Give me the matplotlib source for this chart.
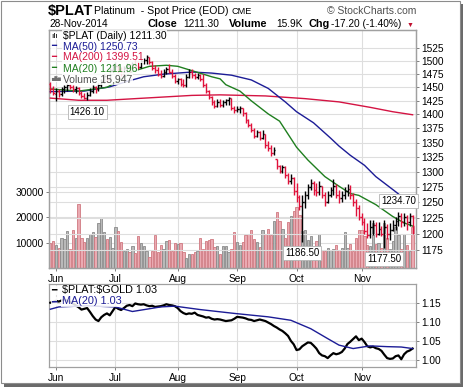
import matplotlib
matplotlib.use("Agg")
import matplotlib.pyplot as plt
import numpy as np
from matplotlib.patches import Rectangle

plt.rcParams['font.family'] = ['Liberation Sans', 'DejaVu Sans']

# trading day 0 = 29-May-2014 ... 128 = 28-Nov-2014
months = ['Jun', 'Jul', 'Aug', 'Sep', 'Oct', 'Nov']
month_start = [2, 23, 45, 66, 87, 110]

opens = [1456, 1448, 1438, 1444, 1438, 1446, 1450, 1454, 1450, 1446, 1448, 1440, 1434, 1430, 1436, 1444, 1450, 1446, 1454, 1462, 1472, 1466, 1482,
         1488, 1490, 1484, 1478, 1486, 1492, 1486, 1494, 1490, 1488, 1500, 1502, 1508, 1498, 1486, 1482, 1476, 1472, 1480, 1484, 1480, 1472,
         1462, 1466, 1456, 1454, 1470, 1480, 1474, 1470, 1474, 1466, 1455, 1444, 1432, 1422, 1415, 1422, 1418, 1422, 1426, 1430, 1412,
         1408, 1410, 1412, 1402, 1390, 1381, 1372, 1362, 1368, 1358, 1366, 1345, 1340, 1332, 1322, 1310, 1302, 1308, 1294, 1284, 1290,
         1268, 1258, 1244, 1250, 1262, 1275, 1282, 1270, 1266, 1276, 1262, 1250, 1262, 1270, 1276, 1262, 1256, 1262, 1268, 1272, 1262, 1250, 1240,
         1226, 1218, 1204, 1198, 1210, 1214, 1200, 1208, 1200, 1210, 1200, 1206, 1214, 1220, 1228, 1218, 1226, 1218, 1228.5]
highs = [1460, 1452, 1448, 1446, 1450, 1454, 1458, 1456, 1454, 1452, 1450, 1444, 1440, 1442, 1448, 1454, 1452, 1458, 1466, 1476, 1474, 1486, 1494,
         1498, 1494, 1488, 1490, 1496, 1494, 1498, 1504, 1500, 1504, 1506, 1512, 1508, 1500, 1492, 1488, 1482, 1485, 1488, 1494, 1484, 1476,
         1468, 1468, 1466, 1475, 1484, 1484, 1478, 1478, 1476, 1475, 1458, 1445, 1434, 1426, 1428, 1428, 1426, 1428, 1432, 1430, 1416,
         1416, 1415, 1412, 1405, 1392, 1384, 1376, 1372, 1370, 1372, 1366, 1352, 1345, 1342, 1322, 1312, 1312, 1310, 1298, 1296, 1292,
         1282, 1262, 1262, 1268, 1280, 1288, 1285, 1282, 1285, 1276, 1266, 1268, 1275, 1288, 1280, 1270, 1268, 1275, 1280, 1278, 1265, 1255, 1245,
         1232, 1224, 1216, 1222, 1222, 1218, 1218, 1212, 1222, 1215, 1216, 1222, 1226, 1234.7, 1232, 1232, 1230, 1232, 1230]
lows = [1440, 1436, 1424, 1432, 1434, 1440, 1444, 1446, 1442, 1440, 1436, 1430, 1428, 1426.1, 1434, 1440, 1440, 1444, 1450, 1458, 1460, 1464, 1478,
        1482, 1478, 1472, 1474, 1480, 1480, 1482, 1486, 1484, 1486, 1494, 1495, 1494, 1482, 1478, 1472, 1468, 1470, 1476, 1478, 1468, 1458,
        1456, 1452, 1450, 1450, 1468, 1468, 1466, 1466, 1462, 1450, 1440, 1428, 1418, 1412, 1414, 1414, 1414, 1417, 1418, 1408, 1402,
        1404, 1402, 1398, 1385, 1378, 1368, 1358, 1360, 1354, 1356, 1340, 1336, 1327, 1328, 1304, 1298, 1298, 1290, 1280, 1280, 1262,
        1250, 1238, 1186.5, 1240, 1255, 1270, 1262, 1260, 1262, 1256, 1244, 1248, 1258, 1262, 1256, 1248, 1250, 1255, 1260, 1255, 1244, 1228, 1222,
        1214, 1200, 1194, 1194, 1198, 1195, 1198, 1196, 1177.5, 1192, 1190, 1204, 1206, 1212, 1210, 1212, 1206, 1212, 1200]
closes = [1446, 1440, 1444, 1438, 1446, 1450, 1454, 1450, 1446, 1448, 1440, 1434, 1430, 1436, 1444, 1450, 1446, 1454, 1462, 1472, 1466, 1482, 1488,
          1490, 1484, 1478, 1486, 1492, 1486, 1494, 1490, 1488, 1500, 1502, 1508, 1498, 1486, 1482, 1476, 1472, 1480, 1484, 1480, 1472, 1462,
          1466, 1456, 1454, 1470, 1480, 1474, 1470, 1474, 1466, 1455, 1444, 1432, 1422, 1415, 1422, 1418, 1422, 1426, 1430, 1412, 1408,
          1410, 1412, 1402, 1390, 1381, 1372, 1362, 1368, 1358, 1366, 1345, 1340, 1332, 1338, 1310, 1302, 1308, 1294, 1284, 1290, 1268,
          1258, 1244, 1250, 1262, 1275, 1282, 1270, 1266, 1276, 1262, 1250, 1262, 1270, 1276, 1262, 1256, 1262, 1268, 1272, 1262, 1250, 1240, 1226,
          1218, 1204, 1198, 1210, 1214, 1200, 1208, 1200, 1210, 1200, 1206, 1214, 1220, 1228, 1218, 1226, 1218, 1228.5, 1211.3]
volume = [9800, 10500, 9200, 8000, 11900, 11400, 14700, 7300, 15100, 11700, 25100, 12000, 10200, 12000, 13200, 14200, 12400, 17800, 19800, 14000, 11300, 12400, 7800,
          16000, 14500, 10400, 6700, 7600, 6300, 8500, 5800, 12500, 10000, 8500, 6700, 4400, 6700, 12800, 6200, 9000, 7300, 10500, 10900, 6700, 9700,
          9400, 9700, 6200, 4100, 5500, 5500, 6200, 6700, 12000, 7600, 10500, 10900, 11300, 8200, 8500, 5500, 8500, 8500, 6200, 7600, 14200,
          10200, 9000, 10200, 12900, 13500, 14800, 11500, 10200, 8300, 14800, 13500, 15400, 13000, 18700, 22000, 18500, 15400, 12000, 18000, 20500, 22600,
          24000, 21000, 14500, 15000, 11000, 12500, 7600, 10500, 13500, 7000, 6500, 8000, 7000, 7500, 9000, 7000, 8000, 14000, 8000, 9500, 6500, 12000, 14800,
          14800, 12500, 9000, 8500, 17600, 9500, 10000, 8000, 17600, 12000, 7600, 10500, 16000, 13000, 7600, 13500, 9000, 6500, 15947]

ma50_day = [0, 12, 21, 27, 33, 40, 50, 57, 64, 71, 77, 83, 87, 93, 99, 102, 106, 111, 115, 122, 125, 128]
ma50 = [1442, 1443, 1451, 1461, 1470, 1475, 1479, 1477, 1473, 1464, 1448, 1423, 1405, 1385, 1358, 1344, 1328, 1311, 1292, 1267, 1256, 1250.73]
ma200_day = [0, 10, 20, 30, 40, 50, 60, 76, 90, 102, 113, 121, 128]
ma200 = [1430, 1426, 1426, 1429, 1432, 1435, 1436, 1434, 1429, 1423, 1413, 1405, 1399.51]
ma20_day = [0, 10, 20, 25, 29, 35, 41, 45, 51, 57, 60, 62, 67, 71, 77, 81, 87, 91, 97, 102, 106, 109, 115, 121, 125, 128]
ma20 = [1447, 1443, 1450, 1465, 1480, 1490, 1492, 1490, 1480, 1470, 1466, 1455, 1443, 1425, 1401, 1388, 1342, 1320, 1292, 1276, 1264, 1261, 1246, 1227, 1217, 1211.96]

ratio = [1.150, 1.152, 1.155, 1.153, 1.156, 1.158, 1.155, 1.152, 1.148, 1.143,
         1.138, 1.132, 1.134, 1.136, 1.126, 1.115, 1.106, 1.102, 1.112, 1.118, 1.122, 1.117, 1.128,
         1.139, 1.134, 1.131, 1.136, 1.142, 1.144, 1.141, 1.148, 1.146, 1.145, 1.146, 1.143, 1.141, 1.142, 1.139, 1.140, 1.141, 1.143, 1.146, 1.144, 1.143, 1.141,
         1.136, 1.128, 1.123, 1.120, 1.122, 1.121, 1.124, 1.118, 1.116, 1.114, 1.111, 1.112, 1.108, 1.106, 1.107, 1.106, 1.104, 1.102, 1.103, 1.104, 1.108,
         1.113, 1.112, 1.111, 1.109, 1.106, 1.105, 1.102, 1.104, 1.106, 1.104, 1.102, 1.098, 1.094, 1.089, 1.085, 1.080, 1.076, 1.070, 1.063, 1.050, 1.041,
         1.026, 1.028, 1.036, 1.041, 1.046, 1.045, 1.038, 1.030, 1.018, 1.012, 1.010, 1.005, 1.012, 1.018, 1.015, 1.017, 1.021, 1.030, 1.042, 1.048, 1.055, 1.062, 1.052,
         1.056, 1.047, 1.036, 1.033, 1.035, 1.031, 1.029, 1.024, 1.014, 1.005, 1.003, 1.004, 1.010, 1.012, 1.002, 1.015, 1.022, 1.025, 1.030]
ratio_ma_day = [0, 3, 13, 23, 29, 39, 44, 53, 65, 77, 85, 92, 98, 102, 107, 113, 119, 124, 128]
ratio_ma = [1.133, 1.139, 1.142, 1.139, 1.127, 1.139, 1.141, 1.132, 1.122, 1.113, 1.104, 1.082, 1.056, 1.039, 1.030, 1.037, 1.035, 1.034, 1.030]

price_ticks = list(range(1175, 1526, 25))
vol_ticks = [10000, 20000, 30000]
ratio_ticks = [1.00, 1.05, 1.10, 1.15]

RED = '#e0103a'
NAVY = '#1c1c96'
CRIMSON = '#d41443'
GREEN = '#1f7f1f'
GRID = '#dedede'
EDGE = '#a0a0a0'

W, H = 464.0, 387.0
fig = plt.figure(figsize=(W / 100, H / 100), dpi=100)

def fp(x, y):
    return x / W, 1 - y / H

# chart frame with a drop shadow
fig.patches.append(Rectangle(fp(4, 387), 460 / W, 383 / H, transform=fig.transFigure,
                             fc='#6a6a6a', ec='none', zorder=-3))
fig.patches.append(Rectangle(fp(0.5, 383), 460 / W, 382.5 / H, transform=fig.transFigure,
                             fc='white', ec='#8c8c8c', lw=0.8, zorder=-2))

ax_v = fig.add_axes([49 / W, 1 - 268 / H, 367 / W, 238 / H])
ax_p = ax_v.twinx()
ax_r = fig.add_axes([49 / W, 1 - 367 / H, 367 / W, 83 / H])

days = np.arange(len(closes))
op = np.array(opens)
cl = np.array(closes)
prev = np.r_[op[0], cl[:-1]]
up = cl >= prev
bar_col = np.where(up, 'black', RED)

# volume (left scale)
ax_v.bar(days, volume, width=0.82, color=np.where(up, '#b9b9b9', '#eaaab2'),
         edgecolor=np.where(up, '#8a8a8a', '#d07880'), linewidth=0.6, zorder=2)
ax_v.set_ylim(0, 93700)
ax_v.set_yticks(vol_ticks)
ax_v.set_yticklabels([str(v) for v in vol_ticks])
ax_v.set_axisbelow(True)
ax_v.grid(True, color=GRID, lw=0.8)

# price (right, log scale)
ax_p.set_yscale('log')
ax_p.vlines(days, lows, highs, colors=bar_col, lw=1.0, zorder=4)
ax_p.hlines(opens, days - 0.5, days, colors=bar_col, lw=1.0, zorder=4)
ax_p.hlines(closes, days, days + 0.5, colors=bar_col, lw=1.0, zorder=4)
ax_p.plot(ma200_day, ma200, color=CRIMSON, lw=1.0, zorder=3)
ax_p.plot(ma50_day, ma50, color=NAVY, lw=1.0, zorder=3)
ax_p.plot(ma20_day, ma20, color=GREEN, lw=1.0, zorder=3)
ax_p.set_ylim(1148, 1561.6)
ax_p.set_yticks(price_ticks)
ax_p.set_yticklabels([str(t) for t in price_ticks])
ax_p.yaxis.set_minor_locator(matplotlib.ticker.NullLocator())
ax_p.grid(True, axis='y', color=GRID, lw=0.8, zorder=0)

box = dict(boxstyle='square,pad=0.2', fc='white', ec='#b4b4b4', lw=0.6)
for d, txt, dy, va in [(13, '1426.10', -5, 'top'), (89, '1186.50', -4, 'top'),
                       (118, '1177.50', -4, 'top'), (123, '1234.70', 4, 'bottom')]:
    yv = highs[d] if va == 'bottom' else lows[d]
    ax_p.annotate(txt, xy=(d, yv), xytext=(0, dy), textcoords='offset points',
                  ha='center', va=va, fontsize=7, bbox=box, zorder=6)

# ratio panel
ax_r.plot(days, ratio, color='black', lw=1.6, zorder=3)
ax_r.plot(ratio_ma_day, ratio_ma, color=NAVY, lw=1.0, zorder=3)
ax_r.set_ylim(0.9817, 1.199)
ax_r.yaxis.tick_right()
ax_r.set_yticks(ratio_ticks)
ax_r.set_yticklabels(['%.2f' % t for t in ratio_ticks])
ax_r.grid(True, color=GRID, lw=0.8)
ax_r.set_axisbelow(True)

for ax in (ax_v, ax_p, ax_r):
    ax.set_xlim(-0.47, 129.2)
    for s in ax.spines.values():
        s.set_color(EDGE)
        s.set_linewidth(0.9)
    ax.tick_params(labelsize=7.3, length=2.5, width=0.7, color='#808080', pad=1.5)
for ax in (ax_v, ax_r):
    ax.set_xticks(month_start)
    ax.set_xticklabels(months)
    ax.tick_params(axis='x', labelsize=7.3, pad=1.5)

# header
fig.text(48 / W, 1 - 11.5 / H, r'\$PLAT', fontsize=10.5, fontweight='bold', va='center')
fig.text(94 / W, 1 - 11.5 / H, 'Platinum  - Spot Price (EOD)', fontsize=7.6, va='center')
fig.text(232 / W, 1 - 12 / H, 'CME', fontsize=6.6, va='center')
fig.text(327 / W, 1 - 11.5 / H, '\u00a9 StockCharts.com', fontsize=7.5, color='#505050', va='center')
y2 = 1 - 24 / H
fig.text(49 / W, y2, '28-Nov-2014', fontsize=7.3, va='center')
fig.text(148 / W, y2, 'Close', fontsize=7.8, fontweight='bold', va='center')
fig.text(183 / W, y2, '1211.30', fontsize=7.3, va='center')
fig.text(229 / W, y2, 'Volume', fontsize=7.8, fontweight='bold', va='center')
fig.text(276 / W, y2, '15.9K', fontsize=7.3, va='center')
fig.text(309 / W, y2, 'Chg', fontsize=7.8, fontweight='bold', va='center')
fig.text(331 / W, y2, '-17.20 (-1.40%)', fontsize=7.3, va='center')
fig.text(407 / W, 1 - 25 / H, '\u25bc', fontsize=5, color='#c0102f', va='center')

# legends
lb = dict(boxstyle='square,pad=0.05', fc='white', ec='none', alpha=0.85)
legend = [(36, 'ılı', r'\$PLAT (Daily) 1211.30', 'black', 'black', 6),
          (46.5, '\u2501', 'MA(50) 1250.73', NAVY, NAVY, 6),
          (57.5, '\u2501', 'MA(200) 1399.51', CRIMSON, CRIMSON, 6),
          (68.5, '\u2501', 'MA(20) 1211.96', GREEN, GREEN, 6),
          (79, '\u2586\u2588\u2587', 'Volume 15,947', '#707070', '#505050', 3.2)]
for yy, icon, txt, ic, tc, isz in legend:
    fig.text(51 / W, 1 - yy / H, icon, fontsize=isz, color=ic, va='center', bbox=lb, zorder=5)
    fig.text(63 / W, 1 - yy / H, txt, fontsize=7.5, color=tc, va='center', bbox=lb, zorder=5)

for yy, txt, c in [(290.5, r'\$PLAT:\$GOLD 1.03', 'black'), (301.5, 'MA(20) 1.03', NAVY)]:
    fig.text(51 / W, 1 - yy / H, '\u2501', fontsize=6.5, color=c, va='center', bbox=lb, zorder=5)
    fig.text(62 / W, 1 - yy / H, txt, fontsize=7.8, color=c, va='center', bbox=lb, zorder=5)

fig.savefig('out.png', dpi=100)
